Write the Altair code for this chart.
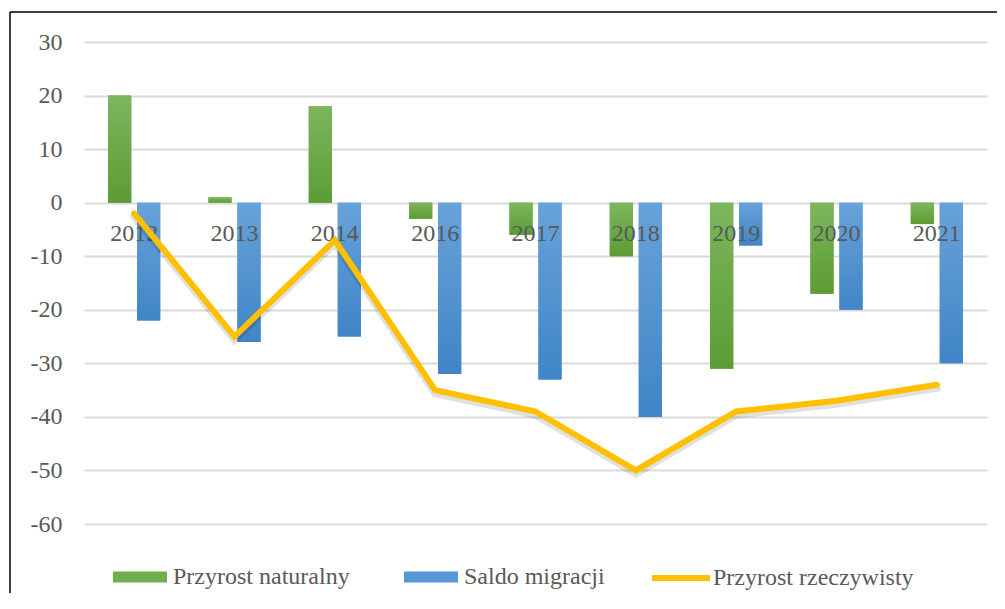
import altair as alt
import pandas as pd

years = ["2012", "2013", "2014", "2016", "2017", "2018", "2019", "2020", "2021"]
natural = [20, 1, 18, -3, -6, -10, -31, -17, -4]
migration = [-22, -26, -25, -32, -33, -40, -8, -20, -30]
real = [-2, -25, -7, -35, -39, -50, -39, -37, -34]
y_ticks = [-60, -50, -40, -30, -20, -10, 0, 10, 20, 30]

S_NAT = "Przyrost naturalny"
S_MIG = "Saldo migracji"
S_REAL = "Przyrost rzeczywisty"

bars_df = pd.DataFrame({
    "year": years * 2,
    "series": [S_NAT] * len(years) + [S_MIG] * len(years),
    "value": natural + migration,
})
line_df = pd.DataFrame({"year": years, "series": [S_REAL] * len(years), "value": real})
labels_df = pd.DataFrame({"year": years})

FONT = "Liberation Serif"
TXT = "#595959"
FS = 24

x = alt.X("year:N", sort=years, axis=None,
          scale=alt.Scale(paddingInner=0.48, paddingOuter=0.24))
y = alt.Y("value:Q",
          scale=alt.Scale(domain=[-60, 30], nice=False, zero=False),
          axis=alt.Axis(values=y_ticks, title=None, labelFont=FONT, labelFontSize=FS,
                        labelExpr="'' + datum.value",
                        labelColor=TXT, labelPadding=22, ticks=False, domain=False,
                        grid=True, gridColor="#d9d9d9", gridWidth=2))
xoff = alt.XOffset("series:N", sort=[S_NAT, S_MIG],
                   scale=alt.Scale(paddingInner=0.2, paddingOuter=0))

bar_legend = alt.Legend(
    title=None, orient="none", legendX=29, legendY=508, direction="horizontal",
    symbolType="M-1,-0.2L1,-0.2L1,0.2L-1,0.2Z", symbolSize=2916, symbolStrokeWidth=0,
    labelFont=FONT, labelFontSize=FS, labelColor=TXT, labelOffset=6, labelLimit=400,
    columnPadding=54, padding=0)

bars = alt.Chart(bars_df).mark_bar().encode(
    x=x, y=y, xOffset=xoff,
    color=alt.Color("series:N", sort=[S_NAT, S_MIG],
                    scale=alt.Scale(domain=[S_NAT, S_MIG], range=["#6fae4a", "#5598d8"]),
                    legend=bar_legend),
)

def grad(top, bottom):
    return alt.LinearGradient(gradient="linear", x1=0, x2=0, y1=0, y2=1,
                              stops=[alt.GradientStop(color=top, offset=0),
                                     alt.GradientStop(color=bottom, offset=1)])

green = alt.Chart(bars_df).transform_filter(alt.datum.series == S_NAT).mark_bar(
    color=grad("#7cb65e", "#5c9c33")).encode(x=x, y=y, xOffset=xoff)
blue = alt.Chart(bars_df).transform_filter(alt.datum.series == S_MIG).mark_bar(
    color=grad("#68a2da", "#4085c6")).encode(x=x, y=y, xOffset=xoff)

labels = alt.Chart(labels_df).mark_text(
    dy=31, font=FONT, fontSize=FS, color=TXT, baseline="middle").encode(
    x=x, y=alt.datum(0), text="year:N")

shadow = alt.Chart(line_df).mark_line(
    strokeWidth=8, strokeCap="round", strokeJoin="miter", color="#000000", opacity=0.12
).encode(x=x, y=y, yOffset=alt.value(3))

line = alt.Chart(line_df).mark_line(strokeWidth=6, strokeCap="round", strokeJoin="miter").encode(
    x=x, y=y,
    color=alt.Color("series:N",
                    scale=alt.Scale(domain=[S_REAL], range=["#ffc000"]),
                    legend=alt.Legend(title=None, orient="none", legendX=565, legendY=504,
                                      symbolType="stroke", symbolSize=3364, symbolStrokeWidth=6,
                                      labelFont=FONT, labelFontSize=FS, labelColor=TXT,
                                      labelOffset=0, labelLimit=400, padding=0)),
)

frame_data = alt.Data(values=[{"k": 1}])
frame_left = alt.Chart(frame_data).mark_rule(color="black", strokeWidth=1.5).encode(
    x=alt.value(-74), y=alt.value(-30), y2=alt.value(560))
frame_top = alt.Chart(frame_data).mark_rule(color="black", strokeWidth=1.5).encode(
    x=alt.value(-74), x2=alt.value(920), y=alt.value(-30))

chart = alt.layer(bars, green, blue, labels, shadow, line, frame_left, frame_top).resolve_scale(
    color="independent"
).properties(
    width=903, height=482,
    autosize="none",
    padding={"left": 76, "top": 34, "right": 10, "bottom": 69},
).configure_view(stroke=None).configure_axis(
    labelFont=FONT
).configure_legend(labelFont=FONT).configure_text(font=FONT)

chart.save("out.html", embed_options={"renderer": "svg", "actions": False})
